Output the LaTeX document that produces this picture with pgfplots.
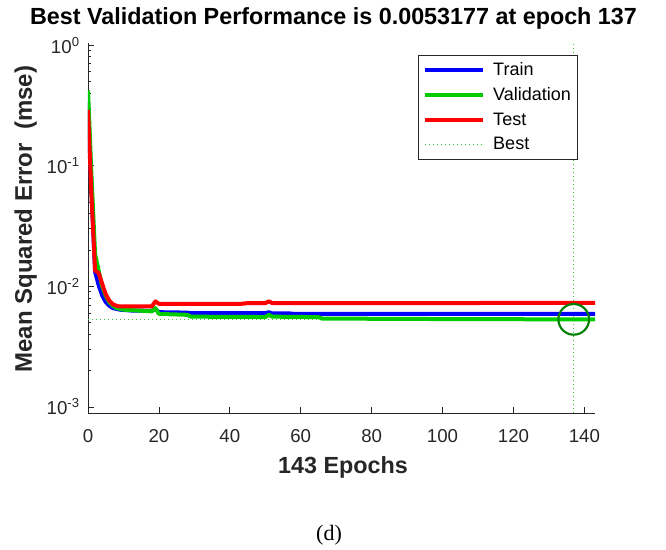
\documentclass[border=0pt]{standalone}
\usepackage{fontspec}
\setmainfont{Liberation Sans}
\newfontfamily\capfont{Liberation Serif}
\usepackage{pgfplots}
\pgfplotsset{compat=1.18}
\definecolor{mblue}{rgb}{0,0,1}
\definecolor{mgreen}{rgb}{0,0.8,0}
\definecolor{mred}{rgb}{1,0,0}
\definecolor{bestg}{rgb}{0,0.5,0}
\definecolor{dotg}{rgb}{0.2,0.8,0.2}
\definecolor{axgray}{gray}{0.15}
\begin{document}
\begin{tikzpicture}
\begin{axis}[
  at={(0,0)}, anchor=south west,
  scale only axis, width=380.25pt, height=277.5pt,
  ymode=log, xmin=0, xmax=143, ymin=8.9e-4, ymax=1.04,
  axis x line*=bottom, axis y line*=left,
  axis line style={-, draw=axgray, line width=0.6pt},
  xtick={0,20,40,60,80,100,120,140},
  ytick={0.001,0.01,0.1,1},
  yticklabels={10\textsuperscript{-3},10\textsuperscript{-2},10\textsuperscript{-1},10\textsuperscript{0}},
  minor ytick={0.002,0.003,0.004,0.005,0.006,0.007,0.008,0.009,0.02,0.03,0.04,0.05,0.06,0.07,0.08,0.09,0.2,0.3,0.4,0.5,0.6,0.7,0.8,0.9},
  tick align=inside, major tick length=4.5pt, minor tick length=2.5pt,
  tick style={axgray, line width=0.5pt},
  ticklabel style={font=\fontsize{14}{16}\selectfont, text=axgray},
  xticklabel style={yshift=-8.6pt},
  yticklabel style={xshift=-2.7pt},
  /pgf/number format/assume math mode=true,
  title={Best Validation Performance is 0.0053177 at epoch 137},
  title style={at={(axis description cs:0.4842,1.0297)}, anchor=base, font=\bfseries\fontsize{17.5}{20}\selectfont},
  xlabel={143 Epochs},
  xlabel style={at={(axis description cs:0.503,-0.1622)}, anchor=base, font=\bfseries\fontsize{17.5}{20}\selectfont, text=axgray},
  ylabel={Mean Squared Error\ \ (mse)},
  ylabel style={at={(axis description cs:-0.1105,0.5243)}, anchor=base, font=\bfseries\fontsize{18}{20}\selectfont, text=axgray},
  legend style={at={(0.9665,0.9676)}, anchor=north east, draw=axgray, line width=0.6pt,
    font=\fontsize{13.5}{15}\selectfont, inner xsep=3pt, inner ysep=3.5pt, row sep=3.6pt},
  legend cell align=left,
  legend image code/.code={\draw[#1] (2pt,0pt) -- (46pt,0pt); \path (50pt,0pt);},
]
% best lines (drawn first, underneath)
\addplot[dotg, line width=1pt, dash pattern=on 1pt off 2pt, forget plot] coordinates {(0,0.0053177) (143,0.0053177)};
\addplot[dotg, line width=1pt, dash pattern=on 1pt off 2pt, forget plot] coordinates {(137,8.9e-4) (137,1.04)};
% train
\addplot[mblue, line width=3pt, line join=round] coordinates {
(0,0.34) (1,0.06) (2,0.0132) (3,0.0102) (4,0.0084) (5,0.0074) (6,0.0069) (7,0.0066) (8,0.0065) (9,0.0064) (12,0.0063) (18,0.00625) (19,0.0065) (20,0.0061) (28,0.00605) (29,0.00598) (50,0.00598) (51,0.0061) (52,0.00595) (57,0.00595) (58,0.0059) (143,0.0059)};
\addlegendentry{Train}
% validation
\addplot[mgreen, line width=3pt, line join=round] coordinates {
(0,0.42) (1,0.08) (2,0.0185) (3,0.0135) (4,0.0100) (5,0.0083) (6,0.0074) (7,0.0069) (8,0.0066) (9,0.0065) (10,0.0064) (14,0.0063) (18,0.0062) (19,0.0066) (20,0.0059) (28,0.0058) (29,0.0056) (50,0.00556) (51,0.0058) (52,0.0056) (65,0.00555) (66,0.0054) (100,0.00535) (137,0.0053177) (143,0.00533)};
\addlegendentry{Validation}
% test
\addplot[mred, line width=3pt, line join=round] coordinates {
(0,0.29) (1,0.055) (2,0.0135) (3,0.0129) (4,0.0105) (5,0.0086) (6,0.0076) (7,0.0071) (8,0.0069) (9,0.0068) (18,0.0068) (19,0.0075) (20,0.00715) (43,0.00715) (45,0.00725) (50,0.00725) (51,0.0075) (52,0.00725) (143,0.00728)};
\addlegendentry{Test}
\addlegendimage{dotg, line width=1pt, dash pattern=on 1pt off 2pt}
\addlegendentry{Best}
% best marker
\addplot[only marks, mark=o, mark size=11.5pt, mark options={draw=bestg, line width=1.6pt}, forget plot] coordinates {(137,0.0053177)};
\end{axis}
\node[anchor=base, font=\capfont\fontsize{16.5}{18}\selectfont] at (180.75pt,-95.25pt) {(d)};
\path (-66pt,-100.5pt) rectangle (433.5pt,309.75pt);
\end{tikzpicture}
\end{document}
